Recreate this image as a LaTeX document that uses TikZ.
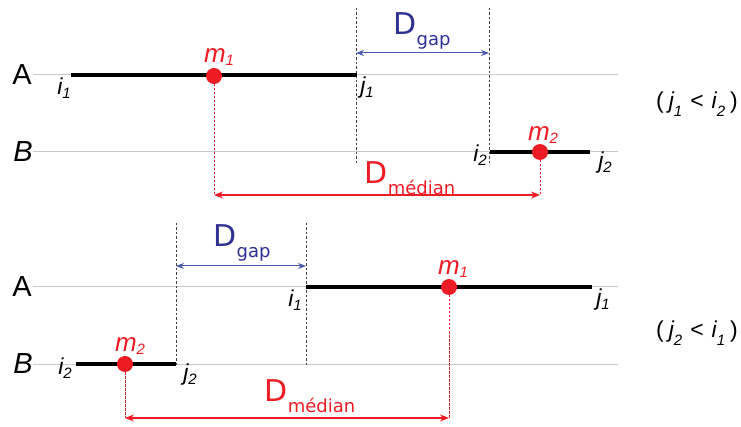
\documentclass[tikz,border=0pt]{standalone}
\usepackage{fontspec}
\setmainfont{Liberation Sans}
\newfontfamily\dvs{DejaVu Sans}
\usetikzlibrary{arrows.meta}
\definecolor{myred}{RGB}{237,28,36}
\definecolor{myblue}{RGB}{46,49,146}
\definecolor{arrblue}{RGB}{70,90,175}
\definecolor{axgrey}{RGB}{200,200,200}
\newcommand{\lbl}[3]{{\fontsize{#3}{#3}\selectfont\itshape #1}\raisebox{-0.35em}{\fontsize{15}{15}\selectfont\itshape #2}}
\newcommand{\Dlab}[1]{{\dvs\fontsize{30}{30}\selectfont D\raisebox{-0.35em}{\fontsize{18}{18}\selectfont #1}}}
\tikzset{
  axis/.style={draw=axgrey, line width=1pt},
  seg/.style={draw=black, line width=3.5pt},
  guide/.style={draw=black!75, line width=1pt, dash pattern=on 2.5pt off 2pt},
  rguide/.style={draw=myred, line width=1pt, dash pattern=on 2.5pt off 1.5pt},
  dot/.style={circle, fill=myred, minimum size=16pt, inner sep=0pt},
  gaparrow/.style={draw=arrblue, line width=1pt, {Stealth[length=8pt,width=6pt]}-{Stealth[length=8pt,width=6pt]}},
  medarrow/.style={draw=myred, line width=1.1pt, {Stealth[length=9pt,width=7pt]}-{Stealth[length=9pt,width=7pt]}},
  txt/.style={inner sep=0pt},
  rowlbl/.style={inner sep=0pt, font=\fontsize{29}{29}\selectfont},
}
\begin{document}
\begin{tikzpicture}[x=1pt,y=-1pt]
\useasboundingbox (0,0) rectangle (741,427);
% ---------- top panel ----------
\coordinate (a1l) at (33,75); \coordinate (a1r) at (618,75);
\coordinate (b1l) at (33,152); \coordinate (b1r) at (618,152);
\draw[axis] (a1l) -- (a1r);
\draw[axis] (b1l) -- (b1r);
\coordinate (ti1) at (71,75); \coordinate (tj1) at (357,75);
\coordinate (ti2) at (490,152); \coordinate (tj2) at (590,152);
\coordinate (tj1top) at (356,8); \coordinate (tj1bot) at (356,164);
\coordinate (ti2top) at (489,8); \coordinate (ti2bot) at (489,164);
\draw[guide] (tj1top) -- (tj1bot);
\draw[guide] (ti2top) -- (ti2bot);
\draw[seg] (ti1) -- (tj1);
\draw[seg] (ti2) -- (tj2);
\coordinate (tga) at (356,53); \coordinate (tgb) at (489,53);
\draw[gaparrow] (tga) -- (tgb);
\coordinate (tma) at (214,195); \coordinate (tmb) at (540,195);
\node[dot] (tm1) at (214,76) {};
\node[dot] (tm2) at (540,152) {};
\draw[rguide] (tm1.center) -- (tma);
\draw[rguide] (tm2.center) -- (tmb);
\draw[medarrow] (tma) -- (tmb);
\node[rowlbl] (tA) at (22,75) {A};
\node[rowlbl] (tB) at (23,152) {\itshape B};
\node[txt] (ti1l) at (64,88) {\lbl{i}{1}{23}};
\node[txt] (tj1l) at (367,88) {\lbl{j}{1}{23}};
\node[txt, text=myred] (tm1l) at (219,57) {\lbl{m}{1}{26}};
\node[txt] (ti2l) at (480,155) {\lbl{i}{2}{23}};
\node[txt, text=myred] (tm2l) at (543,135) {\lbl{m}{2}{26}};
\node[txt] (tj2l) at (605,163) {\lbl{j}{2}{23}};
\node[txt, text=myblue] (tgl) at (422,31) {\Dlab{gap}};
\node[txt, text=myred] (tml) at (410,178) {\Dlab{médian}};
\node[txt] (tcond) at (697,104) {\fontsize{23}{23}\selectfont(\hspace{5pt}\lbl{j}{1}{23}\hspace{8pt}<\hspace{8pt}\lbl{i}{2}{23}\hspace{5pt})};
% ---------- bottom panel ----------
\coordinate (a2l) at (33,287); \coordinate (a2r) at (618,287);
\coordinate (b2l) at (33,364); \coordinate (b2r) at (618,364);
\draw[axis] (a2l) -- (a2r);
\draw[axis] (b2l) -- (b2r);
\coordinate (bi1) at (306,287); \coordinate (bj1) at (592,287);
\coordinate (bi2) at (76,364); \coordinate (bj2) at (176,364);
\coordinate (bj2top) at (176,223); \coordinate (bj2bot) at (176,367);
\coordinate (bi1top) at (306,223); \coordinate (bi1bot) at (306,367);
\draw[guide] (bj2top) -- (bj2bot);
\draw[guide] (bi1top) -- (bi1bot);
\draw[seg] (bi1) -- (bj1);
\draw[seg] (bi2) -- (bj2);
\coordinate (bga) at (176,266); \coordinate (bgb) at (306,266);
\draw[gaparrow] (bga) -- (bgb);
\coordinate (bma) at (125,418); \coordinate (bmb) at (449,418);
\node[dot] (bm1) at (449,287) {};
\node[dot] (bm2) at (125,364) {};
\draw[rguide] (bm1.center) -- (bmb);
\draw[rguide] (bm2.center) -- (bma);
\draw[medarrow] (bma) -- (bmb);
\node[rowlbl] (bA) at (22,287) {A};
\node[rowlbl] (bB) at (23,364) {\itshape B};
\node[txt] (bi1l) at (295,300) {\lbl{i}{1}{23}};
\node[txt] (bj1l) at (603,300) {\lbl{j}{1}{23}};
\node[txt, text=myred] (bm1l) at (453,269) {\lbl{m}{1}{26}};
\node[txt] (bi2l) at (65,368) {\lbl{i}{2}{23}};
\node[txt, text=myred] (bm2l) at (130,346) {\lbl{m}{2}{26}};
\node[txt] (bj2l) at (190,375) {\lbl{j}{2}{23}};
\node[txt, text=myblue] (bgl) at (242,243) {\Dlab{gap}};
\node[txt, text=myred] (bml) at (310,396) {\Dlab{médian}};
\node[txt] (bcond) at (697,333) {\fontsize{23}{23}\selectfont(\hspace{5pt}\lbl{j}{2}{23}\hspace{8pt}<\hspace{8pt}\lbl{i}{1}{23}\hspace{5pt})};
\end{tikzpicture}
\end{document}
